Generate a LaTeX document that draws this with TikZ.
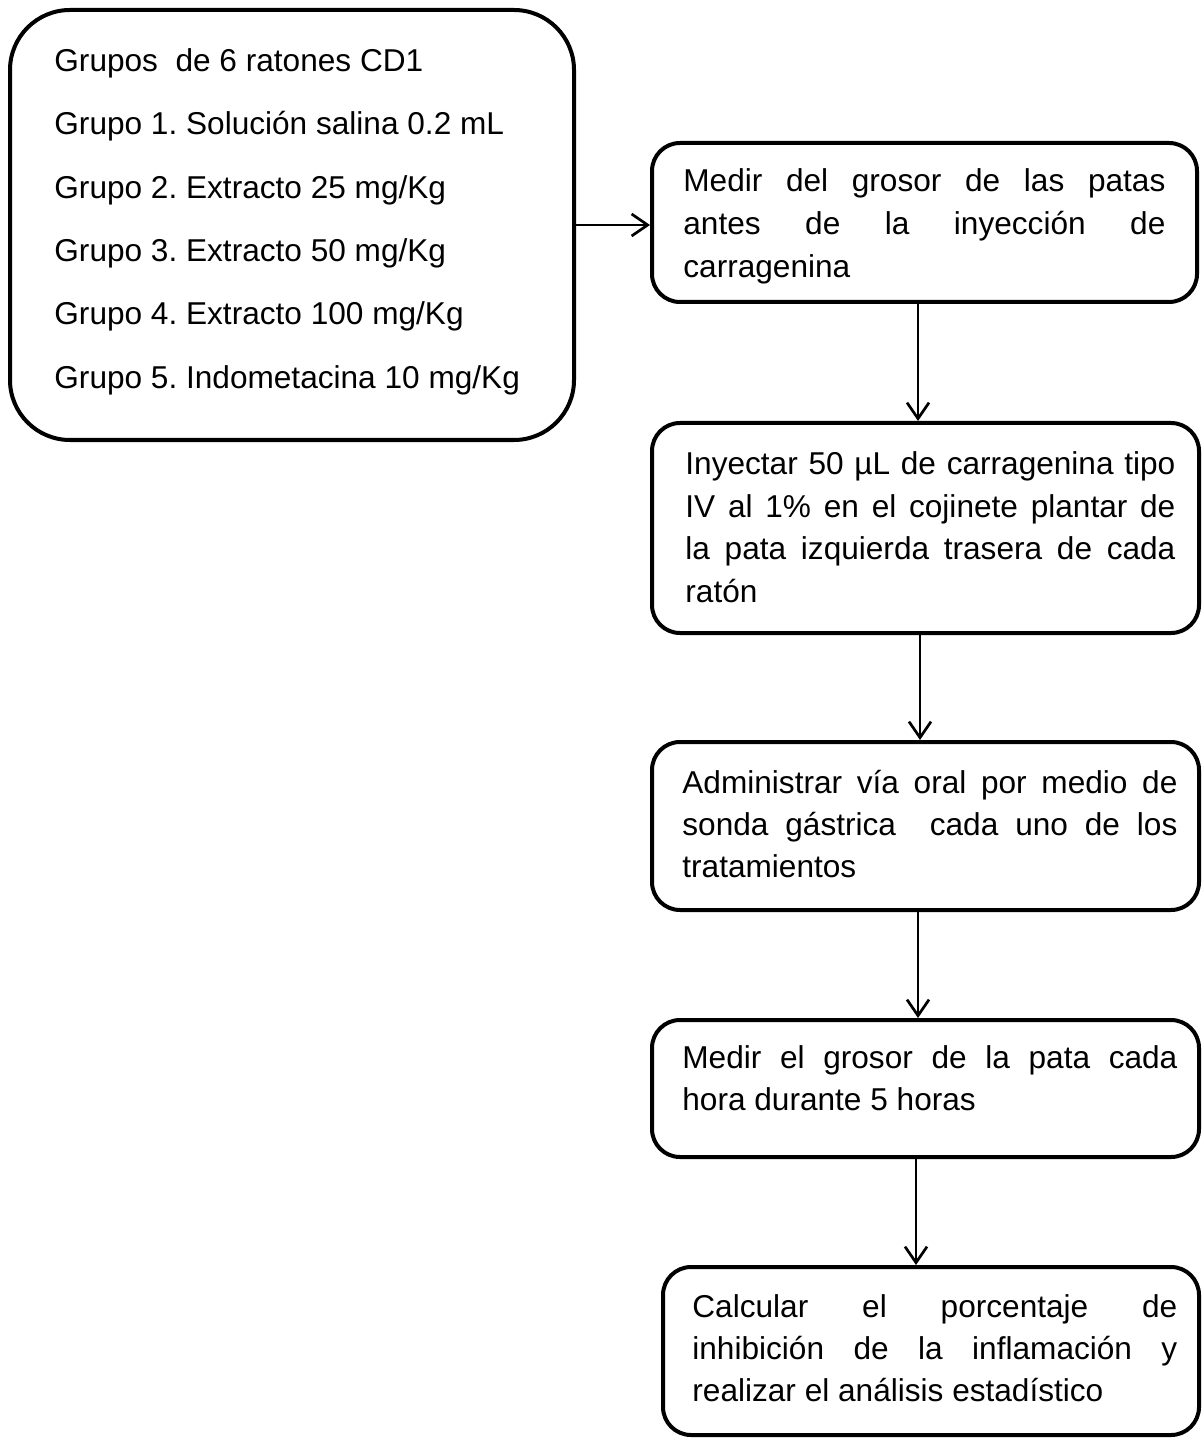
\documentclass[tikz,border=0pt]{standalone}
\usepackage{fontspec}
\setmainfont{Liberation Sans}
\usetikzlibrary{arrows.meta}
\frenchspacing
\newcommand{\jline}[2]{\makebox[#1][s]{#2}}
\tikzset{
  box/.style={draw, line width=2pt, rounded corners=14pt, inner sep=0pt},
  bigbox/.style={box, rounded corners=30pt},
  txt/.style={inner sep=0pt, anchor=base west, font=\fontsize{15.8pt}{19pt}\selectfont},
  arr/.style={line width=1.35pt, -{Straight Barb[length=8pt,width=11pt]}}
}
\begin{document}
\begin{tikzpicture}[x=0.5pt,y=-0.5pt]
\useasboundingbox (0,0) rectangle (1202,1438);
% boxes
\node[bigbox, minimum width=282pt, minimum height=215pt] (b1) at (292,225) {};
\node[box, minimum width=272.5pt, minimum height=79.5pt] (b2) at (924.5,222.5) {};
\node[box, minimum width=273.5pt, minimum height=105pt] (b3) at (925.5,528) {};
\node[box, minimum width=273.5pt, minimum height=84pt] (b4) at (925.5,826) {};
\node[box, minimum width=273.5pt, minimum height=68.5pt] (b5) at (925.5,1088.5) {};
\node[box, minimum width=268pt, minimum height=84pt] (b6) at (931,1351) {};
% box 1 text
\node[txt] (t1a) at (54,72) {Grupos~ de 6 ratones CD1};
\node[txt] (t1b) at (54,135) {Grupo 1. Solución salina 0.2 mL};
\node[txt] (t1c) at (54,199) {Grupo 2. Extracto 25 mg/Kg};
\node[txt] (t1d) at (54,262) {Grupo 3. Extracto 50 mg/Kg};
\node[txt] (t1e) at (54,325) {Grupo 4. Extracto 100 mg/Kg};
\node[txt] (t1f) at (54,389) {Grupo 5. Indometacina 10 mg/Kg};
% box 2 text
\node[txt] (t2a) at (683,192) {\jline{241pt}{Medir del grosor de las patas}};
\node[txt] (t2b) at (683,235) {\jline{241pt}{antes de la inyección de}};
\node[txt] (t2c) at (683,278) {carragenina};
% box 3 text
\node[txt] (t3a) at (685,474) {\jline{245pt}{Inyectar 50 µL de carragenina tipo}};
\node[txt] (t3b) at (685,517) {\jline{245pt}{IV al 1\% en el cojinete plantar de}};
\node[txt] (t3c) at (685,559) {\jline{245pt}{la pata izquierda trasera de cada}};
\node[txt] (t3d) at (685,602) {ratón};
% box 4 text
\node[txt] (t4a) at (682,793) {\jline{247.5pt}{Administrar vía oral por medio de}};
\node[txt] (t4b) at (682,835) {\jline{247.5pt}{sonda gástrica~ cada uno de los}};
\node[txt] (t4c) at (682,877) {tratamientos};
% box 5 text
\node[txt] (t5a) at (682,1068) {\jline{247.5pt}{Medir el grosor de la pata cada}};
\node[txt] (t5b) at (682,1110) {hora durante 5 horas};
% box 6 text
\node[txt] (t6a) at (692,1317) {\jline{242.5pt}{Calcular el porcentaje de}};
\node[txt] (t6b) at (692,1359) {\jline{242.5pt}{inhibición de la inflamación y}};
\node[txt] (t6c) at (692,1401) {realizar el análisis estadístico};
% connectors
\draw[arr] (b1.east) -- (b1.east -| b2.west);
\draw[arr] ([xshift=-3.25pt]b2.south) -- ([xshift=-3.25pt]b2.south |- b3.north);
\draw[arr] ([xshift=-2.75pt]b3.south) -- ([xshift=-2.75pt]b3.south |- b4.north);
\draw[arr] ([xshift=-3.75pt]b4.south) -- ([xshift=-3.75pt]b4.south |- b5.north);
\draw[arr] ([xshift=-4.75pt]b5.south) -- ([xshift=-4.75pt]b5.south |- b6.north);
\end{tikzpicture}
\end{document}
